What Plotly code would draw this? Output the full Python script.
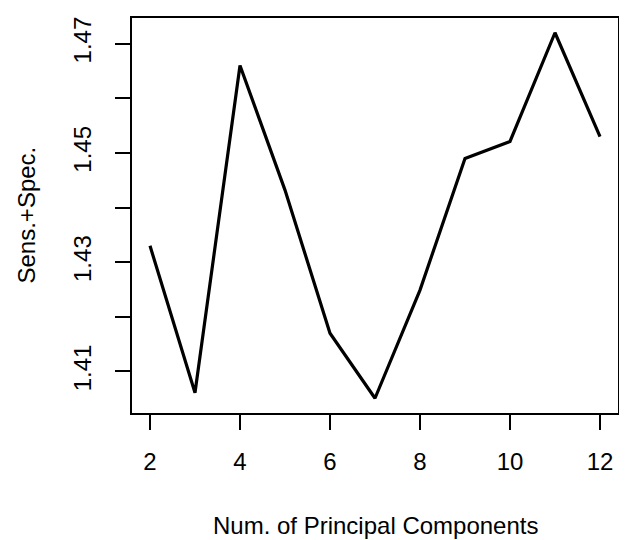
import plotly.graph_objects as go

num_components = [2, 3, 4, 5, 6, 7, 8, 9, 10, 11, 12]
sens_spec = [1.4330, 1.4061, 1.4660, 1.4432, 1.4170, 1.4051, 1.4249, 1.4490, 1.4521, 1.4720, 1.4530]

y_tickvals = [1.41, 1.42, 1.43, 1.44, 1.45, 1.46, 1.47]
y_ticktext = ["1.41", "", "1.43", "", "1.45", "", "1.47"]
x_tickvals = [2, 4, 6, 8, 10, 12]

FONT = "Liberation Sans"

fig = go.Figure(go.Scatter(
    x=num_components, y=sens_spec, mode="lines",
    line=dict(color="black", width=3.2), showlegend=False,
))

# the page body has an 8px margin, so the figure is offset by 8px
fig.update_layout(
    width=611, height=532,
    margin=dict(l=124, r=1, t=10, b=127),
    plot_bgcolor="white", paper_bgcolor="white",
    font=dict(family=FONT, size=24, color="black"),
)
fig.update_xaxes(
    range=[1.6, 12.4], tickvals=x_tickvals, automargin=False,
    tickfont=dict(family=FONT, size=24, color="black"),
    showline=True, mirror=True, linecolor="black", linewidth=1.5,
    ticks="outside", ticklen=15, tickwidth=1.5, tickcolor="black",
    ticklabelstandoff=11,
    showgrid=False, zeroline=False,
)
fig.update_yaxes(
    range=[1.4024, 1.4747], tickvals=y_tickvals, ticktext=y_ticktext,
    tickangle=-90, automargin=False,
    tickfont=dict(family=FONT, size=24, color="black"),
    showline=True, mirror=True, linecolor="black", linewidth=1.5,
    ticks="outside", ticklen=15, tickwidth=1.5, tickcolor="black",
    ticklabelstandoff=15,
    showgrid=False, zeroline=False,
)
fig.add_annotation(
    text="Num. of Principal Components", xref="paper", yref="paper",
    x=0.5, y=0, yshift=-112, showarrow=False,
    font=dict(family=FONT, size=24, color="black"),
    xanchor="center", yanchor="middle",
)
fig.add_annotation(
    text="Sens.+Spec.", xref="paper", yref="paper",
    x=0, y=0.5, xshift=-106, showarrow=False, textangle=-90,
    font=dict(family=FONT, size=24, color="black"),
    xanchor="center", yanchor="middle",
)

fig.write_html("out.html")
